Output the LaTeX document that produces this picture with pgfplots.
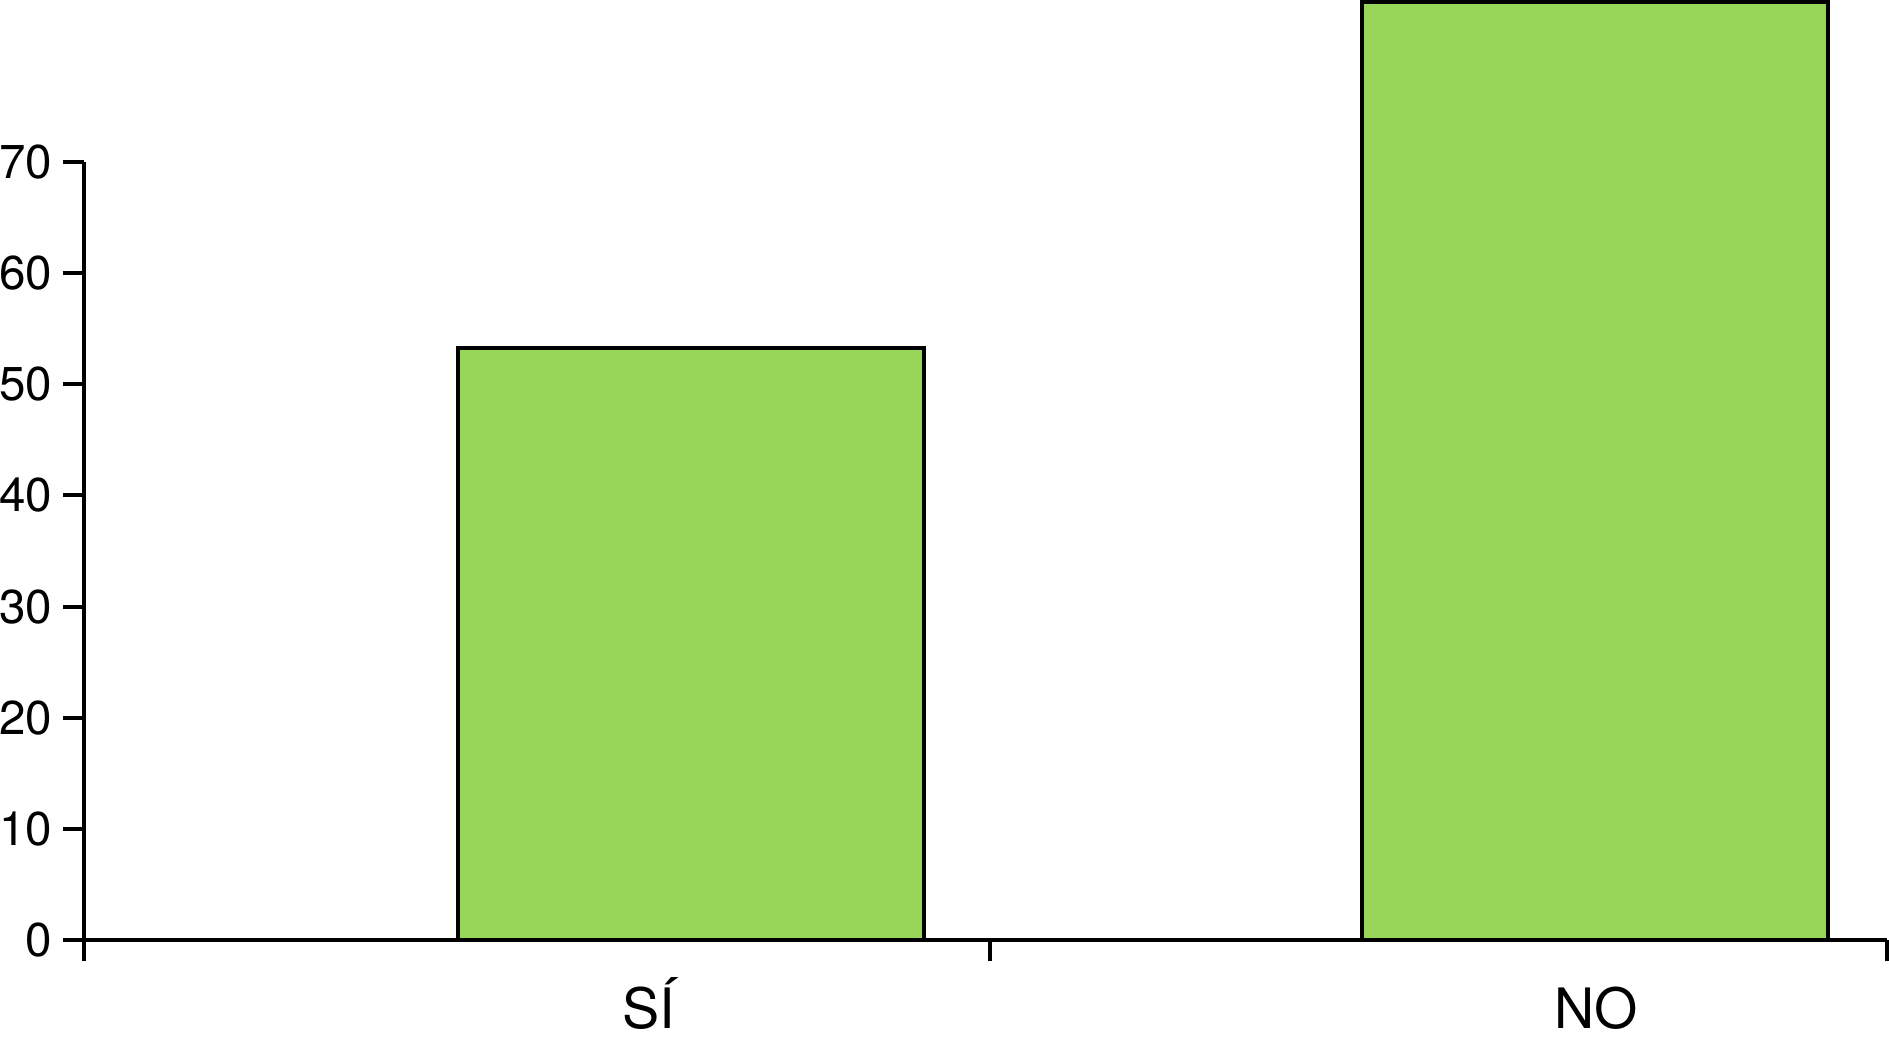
\documentclass[border=0pt]{standalone}
\usepackage{pgfplots}
\pgfplotsset{compat=1.18}
\usepackage{fontspec}
\setmainfont{TeX Gyre Heros}
\definecolor{barfill}{RGB}{152,214,90}
\begin{document}
\begin{tikzpicture}
\begin{axis}[
  scale only axis,
  width=540.9pt, height=233.55pt,
  xmin=84, xmax=1887,
  ymin=0, ymax=70,
  clip=false,
  axis x line*=bottom, axis y line*=left,
  axis line style={-, line width=1.2pt, black},
  every tick/.style={line width=1.2pt, black},
  tick align=outside,
  major tick length=6.3pt,
  xtick={84,990,1887},
  xticklabels={},
  ytick={0,10,20,30,40,50,60,70},
  /pgf/number format/assume math mode=true,
  yticklabel style={font=\fontsize{14.25}{17}\selectfont, anchor=east, inner sep=0pt, xshift=-3pt},
  extra x ticks={649,1596},
  extra x tick labels={SÍ,NO},
  extra x tick style={major tick length=0pt, tick style={draw=none},
    xticklabel style={font=\fontsize{16.7}{20}\selectfont, anchor=base, inner sep=0pt, yshift=-26.4pt}},
  ybar, bar width=466,
]
\addplot[fill=barfill, draw=black, line width=1.2pt, bar shift=0pt] coordinates {(690.5,53.3) (1595,84.4)};
\coordinate (bl) at (axis cs:0,-9.0);
\coordinate (tr) at (axis cs:1889,84.55);
\end{axis}
\pgfresetboundingbox
\path[use as bounding box] (bl) rectangle (tr);
\end{tikzpicture}
\end{document}
